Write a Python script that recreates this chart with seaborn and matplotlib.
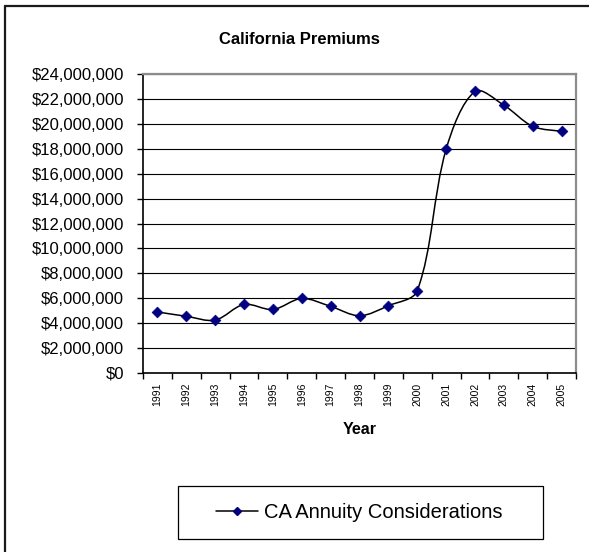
import numpy as np
import pandas as pd
import seaborn as sns
import matplotlib.pyplot as plt
from matplotlib.path import Path
from matplotlib.patches import PathPatch, Rectangle
from matplotlib.lines import Line2D
from matplotlib.ticker import FuncFormatter

# values (dollars)
years = ['1991', '1992', '1993', '1994', '1995', '1996', '1997', '1998',
         '1999', '2000', '2001', '2002', '2003', '2004', '2005']
premiums = [4.9e6, 4.55e6, 4.25e6, 5.5e6, 5.1e6, 5.98e6, 5.35e6, 4.6e6,
            5.4e6, 6.6e6, 17.95e6, 22.6e6, 21.5e6, 19.8e6, 19.4e6]
series_name = 'CA Annuity Considerations'

df = pd.DataFrame({'Year': years, 'Premium': premiums})
df['pos'] = np.arange(len(df))

sns.set_style('white')
plt.rcParams['font.family'] = ['Liberation Sans', 'DejaVu Sans']
plt.rcParams['text.color'] = 'black'
plt.rcParams['axes.labelcolor'] = 'black'
plt.rcParams['xtick.color'] = 'black'
plt.rcParams['ytick.color'] = 'black'

fig = plt.figure(figsize=(5.89, 5.52), dpi=100)
ax = fig.add_axes([143 / 589, 1 - 373 / 552, 433 / 589, 299 / 552])
ax.set_xlim(-0.5, len(df) - 0.5)
ax.set_ylim(0, 24e6)


def smooth_path(ax, xs, ys):
    # Excel-like smoothed line: Bezier segments, tangents weighted by
    # segment length on screen so short segments do not overshoot
    pts = ax.transData.transform(np.column_stack([xs, ys]).astype(float))
    n = len(pts)
    d = np.hypot(*np.diff(pts, axis=0).T)
    tang = np.zeros_like(pts)
    for i in range(n):
        tang[i] = pts[min(i + 1, n - 1)] - pts[max(i - 1, 0)]
    verts = [pts[0]]
    codes = [Path.MOVETO]
    for i in range(n - 1):
        a = d[i] / (d[i - 1] + d[i]) if i > 0 else 0.5
        b = d[i] / (d[i] + d[i + 1]) if i + 1 < n - 1 else 0.5
        c1 = pts[i] + tang[i] * a / 3
        c2 = pts[i + 1] - tang[i + 1] * b / 3
        verts += [c1, c2, pts[i + 1]]
        codes += [Path.CURVE4] * 3
    verts = ax.transData.inverted().transform(np.array(verts))
    return Path(verts, codes)


ax.add_patch(PathPatch(smooth_path(ax, df['pos'], df['Premium']),
                       facecolor='none', edgecolor='black', lw=1.1, zorder=2))
sns.scatterplot(data=df, x='pos', y='Premium', marker='D', s=30,
                color='#000080', edgecolor='#000080', linewidth=0.5,
                ax=ax, zorder=3, legend=False)

ax.set_xlim(-0.5, len(df) - 0.5)
ax.set_ylim(0, 24e6)
ax.set_yticks(np.arange(0, 24e6 + 1, 2e6))
ax.yaxis.set_major_formatter(FuncFormatter(lambda v, _: f'${v:,.0f}'))
ax.tick_params(axis='y', direction='out', length=4.5, width=1, pad=9,
               labelsize=12, colors='black', left=True)

ax.set_xticks(np.arange(-0.5, len(df), 1))
ax.set_xticklabels([])
ax.set_xticks(df['pos'], minor=True)
ax.set_xticklabels(df['Year'], minor=True, rotation=90, fontsize=7.5)
ax.tick_params(axis='x', which='major', direction='out', length=4, width=1,
               bottom=True)
ax.tick_params(axis='x', which='minor', length=0, pad=7)

ax.yaxis.grid(True, color='black', lw=0.8)
ax.xaxis.grid(False)
ax.set_axisbelow(True)
for side in ['left', 'bottom']:
    ax.spines[side].set_color('black')
    ax.spines[side].set_linewidth(1.2)
for side in ['top', 'right']:
    ax.spines[side].set_color('#8c8c8c')
    ax.spines[side].set_linewidth(1.6)

ax.set_ylabel('')
ax.set_xlabel('Year', fontsize=11.5, fontweight='bold')
ax.xaxis.label.set_va('center')
ax.xaxis.set_label_coords(0.5, -0.19)

fig.text(299.5 / 589, 1 - 40 / 552, 'California Premiums', ha='center',
         va='center', fontsize=12, fontweight='bold')

# legend
handle = Line2D([], [], color='black', lw=1.1, marker='D', ms=4.5,
                mfc='#000080', mec='#000080')
fig.legend([handle], [series_name], loc='center left',
           bbox_to_anchor=(216 / 589, 1 - 512.5 / 552), frameon=False,
           fontsize=14.5, handlelength=2.1, handletextpad=0.3,
           borderpad=0, borderaxespad=0)
fig.add_artist(Rectangle((177.7 / 589, 1 - 539 / 552), 365 / 589, 53.3 / 552,
                         transform=fig.transFigure, fill=False,
                         ec='black', lw=0.9))

# outer chart frame (right and bottom edges are cut off in the original)
fig.add_artist(Line2D([4.7 / 589, 4.7 / 589], [0, 1 - 5.7 / 552],
                      transform=fig.transFigure, color='#1a1a1a', lw=1.6))
fig.add_artist(Line2D([4.7 / 589, 1], [1 - 5.7 / 552, 1 - 5.7 / 552],
                      transform=fig.transFigure, color='#1a1a1a', lw=1.6))

fig.savefig('out.png', dpi=100)
